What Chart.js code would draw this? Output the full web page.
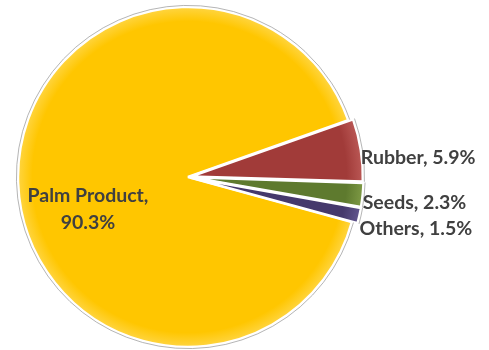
<!DOCTYPE html>
<html><head><meta charset="utf-8">
<script src="https://cdn.jsdelivr.net/npm/chart.js@4.4.0/dist/chart.umd.min.js"></script>
<style>html,body{margin:0;padding:0;background:#fff;}#wrap{width:489px;height:350px;position:relative;}</style>
</head><body><div id="wrap"><canvas id="c"></canvas></div>
<script>
const categories = ['Palm Product', 'Rubber', 'Seeds', 'Others'];
const shares = [90.3, 5.9, 2.3, 1.5];
const valueLabels = ['90.3%', '5.9%', '2.3%', '1.5%'];
const sliceColors = ['#FFC600', '#A13B39', '#5E7A2E', '#45396C'];
const rimColors = ['#FFD84E', '#BC5A57', '#7E9A45', '#62568E'];
const explode = [0, 12, 12, 12];
const PIE_RADIUS = 170;

function sliceFill(c) {
  const i = c.dataIndex;
  const chart = c.chart;
  const a = chart.chartArea;
  if (!a) return sliceColors[i];
  const cx = (a.left + a.right) / 2, cy = (a.top + a.bottom) / 2;
  const g = chart.ctx.createRadialGradient(cx, cy, 0, cx, cy, PIE_RADIUS + 3);
  g.addColorStop(0, sliceColors[i]);
  g.addColorStop(0.9, sliceColors[i]);
  g.addColorStop(1, rimColors[i]);
  return g;
}

function arcGeom(arc) {
  const p = arc.getProps(['x', 'y', 'startAngle', 'endAngle', 'outerRadius'], true);
  const mid = (p.startAngle + p.endAngle) / 2;
  const off = (arc.options.offset || 0) / 4;
  const fix = 1 - Math.sin(Math.min(Math.PI, p.endAngle - p.startAngle));
  return {
    ax: p.x + Math.cos(mid) * off,
    ay: p.y + Math.sin(mid) * off,
    R: p.outerRadius + off * fix,
    mid, start: p.startAngle, end: p.endAngle
  };
}

const rimPlugin = {
  id: 'rim',
  afterDatasetsDraw(chart) {
    const ctx = chart.ctx;
    chart.getDatasetMeta(0).data.forEach(arc => {
      const g = arcGeom(arc);
      ctx.save();
      ctx.beginPath();
      ctx.arc(g.ax, g.ay, g.R + 1.6, g.start, g.end);
      ctx.strokeStyle = 'rgba(150,150,150,0.7)';
      ctx.lineWidth = 1;
      ctx.stroke();
      ctx.restore();
    });
  }
};

const labelPlugin = {
  id: 'sliceLabels',
  afterDatasetsDraw(chart) {
    const ctx = chart.ctx;
    ctx.save();
    ctx.font = 'bold 19.5px Lato';
    ctx.fillStyle = '#404040';
    let lastY = -Infinity;
    chart.getDatasetMeta(0).data.forEach((arc, i) => {
      const g = arcGeom(arc);
      if (i === 0) {
        const ang = g.mid - 0.274;
        const lx = g.ax + Math.cos(ang) * g.R * 0.618;
        const ly = g.ay + Math.sin(ang) * g.R * 0.618;
        ctx.textAlign = 'center';
        ctx.textBaseline = 'middle';
        ctx.fillText(categories[i] + ',', lx, ly - 13.5);
        ctx.fillText(valueLabels[i], lx, ly + 13.5);
      } else {
        const lx = g.ax + Math.cos(g.mid) * g.R;
        let ly = g.ay + Math.sin(g.mid) * g.R + 8;
        ly = Math.max(ly, lastY + 26);
        lastY = ly;
        ctx.textAlign = 'left';
        ctx.textBaseline = 'middle';
        ctx.fillText(categories[i] + ', ' + valueLabels[i], lx, ly);
      }
    });
    ctx.restore();
  }
};

new Chart(document.getElementById('c'), {
  type: 'pie',
  data: {
    labels: categories,
    datasets: [{
      data: shares,
      backgroundColor: sliceFill,
      borderColor: '#ffffff',
      borderWidth: 2.5,
      offset: explode
    }]
  },
  options: {
    responsive: true,
    maintainAspectRatio: false,
    animation: false,
    rotation: 105.4,
    radius: PIE_RADIUS,
    layout: { padding: { top: 4, left: 0, right: 113, bottom: 0 } },
    plugins: { legend: { display: false }, tooltip: { enabled: false } }
  },
  plugins: [rimPlugin, labelPlugin]
});
</script>
</body></html>
